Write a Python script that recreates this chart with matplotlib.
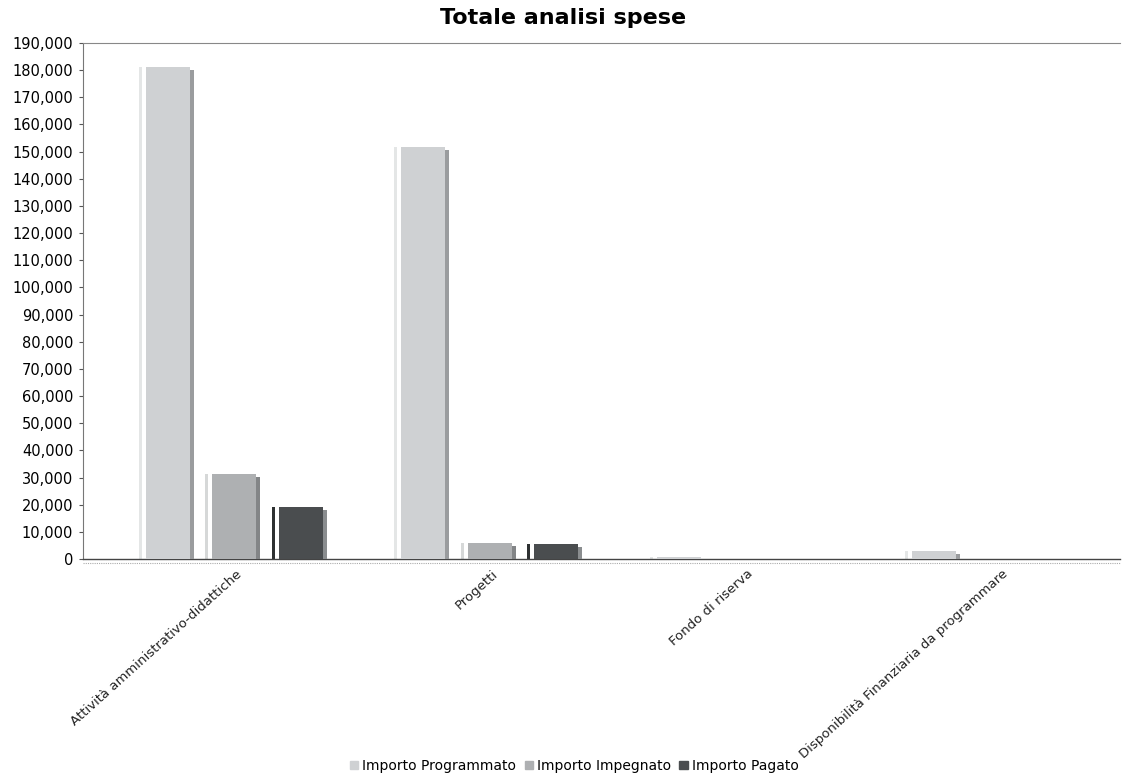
import matplotlib.pyplot as plt
import matplotlib.transforms as mtransforms
from matplotlib.ticker import FuncFormatter, MultipleLocator

# Totale analisi spese - bar chart in the old 3D report look

categories = [
    "Attività amministrativo-didattiche",
    "Progetti",
    "Fondo di riserva",
    "Disponibilità Finanziaria da programmare",
]
series_names = ["Importo Programmato", "Importo Impegnato", "Importo Pagato"]
programmato = [181200, 151800, 700, 2900]
impegnato = [31200, 5800, 0, 0]
pagato = [19200, 5600, 0, 0]

values = [programmato, impegnato, pagato]
body_colors = ["#cfd1d3", "#aeb0b2", "#4a4d4f"]
side_colors = ["#9a9c9e", "#838587", "#8a8d8f"]
stripe_colors = ["#e4e6e6", "#d6d8d8", "#2e3132"]

fig = plt.figure(figsize=(11.26, 7.76), dpi=100)
ax = fig.add_axes([0.0737, 0.2796, 0.921, 0.665])

x = list(range(len(categories)))
step = 0.26      # distance between series inside a group
body_w = 0.172
side_w = 0.016
stripe_w = 0.012
ymax = 190000
drop = 0.006 * ymax

for s, vals in enumerate(values):
    offs = (s - 1) * step
    xs = [xi + offs for xi in x]
    # thin light stripe on the left
    ax.bar([xi - 0.105 for xi in xs], vals, width=stripe_w, align="edge",
           color=stripe_colors[s], linewidth=0, zorder=2)
    # main body
    ax.bar([xi - 0.077 for xi in xs], vals, width=body_w, align="edge",
           color=body_colors[s], linewidth=0, zorder=3)
    # darker right side, a bit shorter
    side_h = [max(v - drop, 0) if v > 0 else 0 for v in vals]
    ax.bar([xi + 0.095 for xi in xs], side_h, width=side_w, align="edge",
           color=side_colors[s], linewidth=0, zorder=3)

ax.set_xlim(-0.584, 3.478)
ax.set_ylim(0, ymax)
ax.yaxis.set_major_locator(MultipleLocator(10000))
ax.yaxis.set_major_formatter(FuncFormatter(lambda v, p: f"{int(v):,}"))
ax.tick_params(axis="y", labelsize=10.5, length=3, color="#555555", pad=4)
ax.tick_params(axis="x", length=0, pad=6)

ax.set_xticks(x)
ax.set_xticklabels(categories, rotation=42, ha="right", rotation_mode="anchor",
                   fontsize=9.5, color="#222222")
shift = mtransforms.ScaledTranslation(4 / 100, 0, fig.dpi_scale_trans)
for lbl in ax.get_xticklabels():
    lbl.set_transform(lbl.get_transform() + shift)

ax.spines["right"].set_visible(False)
ax.spines["left"].set_color("#777777")
ax.spines["left"].set_linestyle((0, (2, 1)))
ax.spines["left"].set_linewidth(0.8)
ax.spines["top"].set_color("#888888")
ax.spines["top"].set_linestyle((0, (2, 1)))
ax.spines["top"].set_linewidth(0.8)
ax.spines["bottom"].set_color("#444444")
ax.spines["bottom"].set_linestyle((0, (3, 1)))
ax.spines["bottom"].set_linewidth(1.0)
# second floor line just below the base
ax.axhline(-1400, color="#aaaaaa", linewidth=0.8, linestyle=(0, (1, 1)),
           clip_on=False)

fig.suptitle("Totale analisi spese", y=0.99, fontsize=16, fontweight="bold")

handles = [plt.Rectangle((0, 0), 1, 1, color=c) for c in body_colors]
fig.legend(handles, series_names, loc="lower center", ncol=3, frameon=False,
           fontsize=10, bbox_to_anchor=(0.51, -0.012), handlelength=0.6,
           handleheight=0.6, handletextpad=0.3, columnspacing=0.6)

fig.savefig("out.png", dpi=100)
